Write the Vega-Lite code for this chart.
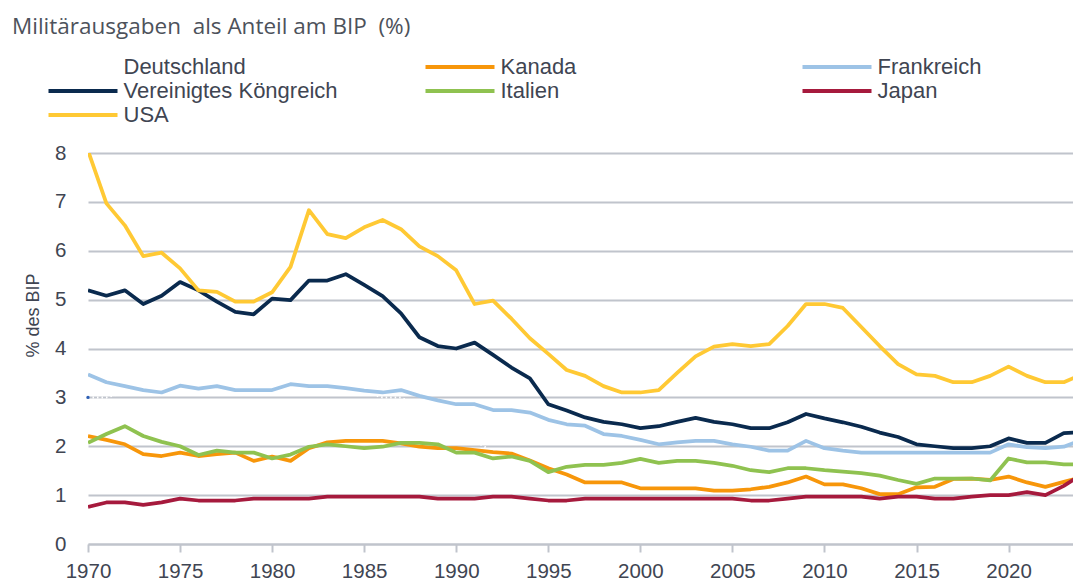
{
  "$schema": "https://vega.github.io/schema/vega-lite/v6.json",
  "width": 985,
  "height": 391,
  "autosize": {"type": "none"},
  "padding": {"left": 88, "top": 153, "right": 0, "bottom": 37},
  "background": "white",
  "title": {
    "text": "Militärausgaben\u00a0 als Anteil am BIP\u00a0 (%)",
    "anchor": "start",
    "frame": "group",
    "font": "Open Sans",
    "fontSize": 22.5,
    "fontWeight": "normal",
    "color": "#4d525b",
    "dx": -76,
    "offset": -1,
    "baseline": "alphabetic"
  },
  "config": {
    "view": {"stroke": null},
    "axis": {
      "labelFont": "Liberation Sans",
      "labelFontSize": 20.5,
      "labelColor": "#404552",
      "titleFont": "Liberation Sans",
      "titleColor": "#404552",
      "titleFontWeight": "normal"
    }
  },
  "data": {
    "values": [
      {"year": 1970, "Deutschland": 3.0, "Kanada": 2.21, "Frankreich": 3.47, "Vereinigtes Köngreich": 5.19, "Italien": 2.07, "Japan": 0.76, "USA": 8.05},
      {"year": 1971, "Deutschland": 3.0, "Kanada": 2.13, "Frankreich": 3.31, "Vereinigtes Köngreich": 5.08, "Italien": 2.25, "Japan": 0.85, "USA": 6.97},
      {"year": 1972, "Deutschland": 3.1, "Kanada": 2.04, "Frankreich": 3.23, "Vereinigtes Köngreich": 5.19, "Italien": 2.41, "Japan": 0.85, "USA": 6.52},
      {"year": 1973, "Deutschland": 3.1, "Kanada": 1.84, "Frankreich": 3.15, "Vereinigtes Köngreich": 4.91, "Italien": 2.21, "Japan": 0.80, "USA": 5.89},
      {"year": 1974, "Deutschland": 3.2, "Kanada": 1.80, "Frankreich": 3.10, "Vereinigtes Köngreich": 5.08, "Italien": 2.09, "Japan": 0.85, "USA": 5.96},
      {"year": 1975, "Deutschland": 3.2, "Kanada": 1.87, "Frankreich": 3.24, "Vereinigtes Köngreich": 5.36, "Italien": 2.00, "Japan": 0.93, "USA": 5.64},
      {"year": 1976, "Deutschland": 3.1, "Kanada": 1.80, "Frankreich": 3.18, "Vereinigtes Köngreich": 5.19, "Italien": 1.82, "Japan": 0.89, "USA": 5.19},
      {"year": 1977, "Deutschland": 3.1, "Kanada": 1.84, "Frankreich": 3.23, "Vereinigtes Köngreich": 4.96, "Italien": 1.91, "Japan": 0.89, "USA": 5.16},
      {"year": 1978, "Deutschland": 3.1, "Kanada": 1.87, "Frankreich": 3.15, "Vereinigtes Köngreich": 4.75, "Italien": 1.87, "Japan": 0.89, "USA": 4.96},
      {"year": 1979, "Deutschland": 3.1, "Kanada": 1.70, "Frankreich": 3.15, "Vereinigtes Köngreich": 4.70, "Italien": 1.87, "Japan": 0.93, "USA": 4.96},
      {"year": 1980, "Deutschland": 3.1, "Kanada": 1.79, "Frankreich": 3.15, "Vereinigtes Köngreich": 5.02, "Italien": 1.75, "Japan": 0.93, "USA": 5.15},
      {"year": 1981, "Deutschland": 3.2, "Kanada": 1.70, "Frankreich": 3.27, "Vereinigtes Köngreich": 4.99, "Italien": 1.83, "Japan": 0.93, "USA": 5.67},
      {"year": 1982, "Deutschland": 3.2, "Kanada": 1.96, "Frankreich": 3.23, "Vereinigtes Köngreich": 5.39, "Italien": 1.99, "Japan": 0.93, "USA": 6.83},
      {"year": 1983, "Deutschland": 3.2, "Kanada": 2.08, "Frankreich": 3.23, "Vereinigtes Köngreich": 5.39, "Italien": 2.04, "Japan": 0.97, "USA": 6.34},
      {"year": 1984, "Deutschland": 3.1, "Kanada": 2.11, "Frankreich": 3.19, "Vereinigtes Köngreich": 5.52, "Italien": 2.00, "Japan": 0.97, "USA": 6.26},
      {"year": 1985, "Deutschland": 3.1, "Kanada": 2.11, "Frankreich": 3.14, "Vereinigtes Köngreich": 5.30, "Italien": 1.96, "Japan": 0.97, "USA": 6.48},
      {"year": 1986, "Deutschland": 3.0, "Kanada": 2.11, "Frankreich": 3.10, "Vereinigtes Köngreich": 5.07, "Italien": 1.99, "Japan": 0.97, "USA": 6.63},
      {"year": 1987, "Deutschland": 3.0, "Kanada": 2.06, "Frankreich": 3.15, "Vereinigtes Köngreich": 4.72, "Italien": 2.07, "Japan": 0.97, "USA": 6.44},
      {"year": 1988, "Deutschland": 2.8, "Kanada": 1.99, "Frankreich": 3.03, "Vereinigtes Köngreich": 4.23, "Italien": 2.07, "Japan": 0.97, "USA": 6.09},
      {"year": 1989, "Deutschland": 2.6, "Kanada": 1.96, "Frankreich": 2.94, "Vereinigtes Köngreich": 4.05, "Italien": 2.04, "Japan": 0.93, "USA": 5.89},
      {"year": 1990, "Deutschland": 2.4, "Kanada": 1.96, "Frankreich": 2.86, "Vereinigtes Köngreich": 4.00, "Italien": 1.87, "Japan": 0.93, "USA": 5.60},
      {"year": 1991, "Deutschland": 2.1, "Kanada": 1.92, "Frankreich": 2.86, "Vereinigtes Köngreich": 4.12, "Italien": 1.87, "Japan": 0.93, "USA": 4.91},
      {"year": 1992, "Deutschland": 1.9, "Kanada": 1.88, "Frankreich": 2.74, "Vereinigtes Köngreich": 3.87, "Italien": 1.75, "Japan": 0.97, "USA": 4.98},
      {"year": 1993, "Deutschland": 1.7, "Kanada": 1.85, "Frankreich": 2.74, "Vereinigtes Köngreich": 3.61, "Italien": 1.79, "Japan": 0.97, "USA": 4.61},
      {"year": 1994, "Deutschland": 1.6, "Kanada": 1.71, "Frankreich": 2.69, "Vereinigtes Köngreich": 3.39, "Italien": 1.70, "Japan": 0.93, "USA": 4.21},
      {"year": 1995, "Deutschland": 1.5, "Kanada": 1.55, "Frankreich": 2.54, "Vereinigtes Köngreich": 2.86, "Italien": 1.47, "Japan": 0.89, "USA": 3.89},
      {"year": 1996, "Deutschland": 1.5, "Kanada": 1.42, "Frankreich": 2.45, "Vereinigtes Köngreich": 2.73, "Italien": 1.58, "Japan": 0.89, "USA": 3.56},
      {"year": 1997, "Deutschland": 1.4, "Kanada": 1.26, "Frankreich": 2.42, "Vereinigtes Köngreich": 2.59, "Italien": 1.62, "Japan": 0.93, "USA": 3.44},
      {"year": 1998, "Deutschland": 1.4, "Kanada": 1.26, "Frankreich": 2.25, "Vereinigtes Köngreich": 2.50, "Italien": 1.62, "Japan": 0.93, "USA": 3.23},
      {"year": 1999, "Deutschland": 1.4, "Kanada": 1.26, "Frankreich": 2.21, "Vereinigtes Köngreich": 2.45, "Italien": 1.66, "Japan": 0.93, "USA": 3.10},
      {"year": 2000, "Deutschland": 1.4, "Kanada": 1.14, "Frankreich": 2.13, "Vereinigtes Köngreich": 2.37, "Italien": 1.74, "Japan": 0.93, "USA": 3.10},
      {"year": 2001, "Deutschland": 1.35, "Kanada": 1.14, "Frankreich": 2.04, "Vereinigtes Köngreich": 2.41, "Italien": 1.66, "Japan": 0.93, "USA": 3.15},
      {"year": 2002, "Deutschland": 1.35, "Kanada": 1.14, "Frankreich": 2.08, "Vereinigtes Köngreich": 2.50, "Italien": 1.70, "Japan": 0.93, "USA": 3.50},
      {"year": 2003, "Deutschland": 1.35, "Kanada": 1.14, "Frankreich": 2.11, "Vereinigtes Köngreich": 2.58, "Italien": 1.70, "Japan": 0.93, "USA": 3.84},
      {"year": 2004, "Deutschland": 1.3, "Kanada": 1.09, "Frankreich": 2.11, "Vereinigtes Köngreich": 2.50, "Italien": 1.66, "Japan": 0.93, "USA": 4.04},
      {"year": 2005, "Deutschland": 1.3, "Kanada": 1.09, "Frankreich": 2.04, "Vereinigtes Köngreich": 2.45, "Italien": 1.60, "Japan": 0.93, "USA": 4.09},
      {"year": 2006, "Deutschland": 1.3, "Kanada": 1.12, "Frankreich": 1.99, "Vereinigtes Köngreich": 2.37, "Italien": 1.51, "Japan": 0.89, "USA": 4.05},
      {"year": 2007, "Deutschland": 1.3, "Kanada": 1.17, "Frankreich": 1.91, "Vereinigtes Köngreich": 2.37, "Italien": 1.47, "Japan": 0.89, "USA": 4.09},
      {"year": 2008, "Deutschland": 1.3, "Kanada": 1.26, "Frankreich": 1.91, "Vereinigtes Köngreich": 2.49, "Italien": 1.55, "Japan": 0.93, "USA": 4.46},
      {"year": 2009, "Deutschland": 1.35, "Kanada": 1.38, "Frankreich": 2.11, "Vereinigtes Köngreich": 2.66, "Italien": 1.55, "Japan": 0.97, "USA": 4.91},
      {"year": 2010, "Deutschland": 1.35, "Kanada": 1.22, "Frankreich": 1.96, "Vereinigtes Köngreich": 2.57, "Italien": 1.51, "Japan": 0.97, "USA": 4.91},
      {"year": 2011, "Deutschland": 1.3, "Kanada": 1.22, "Frankreich": 1.91, "Vereinigtes Köngreich": 2.49, "Italien": 1.48, "Japan": 0.97, "USA": 4.83},
      {"year": 2012, "Deutschland": 1.3, "Kanada": 1.14, "Frankreich": 1.87, "Vereinigtes Köngreich": 2.40, "Italien": 1.45, "Japan": 0.97, "USA": 4.44},
      {"year": 2013, "Deutschland": 1.25, "Kanada": 1.02, "Frankreich": 1.87, "Vereinigtes Köngreich": 2.28, "Italien": 1.40, "Japan": 0.93, "USA": 4.05},
      {"year": 2014, "Deutschland": 1.2, "Kanada": 1.02, "Frankreich": 1.87, "Vereinigtes Köngreich": 2.19, "Italien": 1.31, "Japan": 0.97, "USA": 3.68},
      {"year": 2015, "Deutschland": 1.2, "Kanada": 1.16, "Frankreich": 1.87, "Vereinigtes Köngreich": 2.04, "Italien": 1.23, "Japan": 0.97, "USA": 3.47},
      {"year": 2016, "Deutschland": 1.2, "Kanada": 1.17, "Frankreich": 1.87, "Vereinigtes Köngreich": 2.00, "Italien": 1.34, "Japan": 0.93, "USA": 3.44},
      {"year": 2017, "Deutschland": 1.25, "Kanada": 1.33, "Frankreich": 1.87, "Vereinigtes Köngreich": 1.96, "Italien": 1.34, "Japan": 0.93, "USA": 3.31},
      {"year": 2018, "Deutschland": 1.25, "Kanada": 1.34, "Frankreich": 1.87, "Vereinigtes Köngreich": 1.96, "Italien": 1.34, "Japan": 0.97, "USA": 3.31},
      {"year": 2019, "Deutschland": 1.35, "Kanada": 1.31, "Frankreich": 1.87, "Vereinigtes Köngreich": 2.00, "Italien": 1.30, "Japan": 1.00, "USA": 3.44},
      {"year": 2020, "Deutschland": 1.45, "Kanada": 1.38, "Frankreich": 2.04, "Vereinigtes Köngreich": 2.16, "Italien": 1.75, "Japan": 1.00, "USA": 3.63},
      {"year": 2021, "Deutschland": 1.35, "Kanada": 1.26, "Frankreich": 1.98, "Vereinigtes Köngreich": 2.07, "Italien": 1.67, "Japan": 1.06, "USA": 3.44},
      {"year": 2022, "Deutschland": 1.4, "Kanada": 1.17, "Frankreich": 1.96, "Vereinigtes Köngreich": 2.07, "Italien": 1.67, "Japan": 1.00, "USA": 3.31},
      {"year": 2023, "Deutschland": 1.55, "Kanada": 1.27, "Frankreich": 1.99, "Vereinigtes Köngreich": 2.27, "Italien": 1.63, "Japan": 1.19, "USA": 3.31},
      {"year": 2024, "Deutschland": 1.9, "Kanada": 1.37, "Frankreich": 2.13, "Vereinigtes Köngreich": 2.29, "Italien": 1.63, "Japan": 1.43, "USA": 3.47}
    ]
  },
  "encoding": {
    "x": {
      "field": "year",
      "type": "quantitative",
      "scale": {"domain": [1970, 2023.5], "nice": false, "zero": false},
      "axis": {
        "values": [1970, 1975, 1980, 1985, 1990, 1995, 2000, 2005, 2010, 2015, 2020],
        "format": "d",
        "title": null,
        "grid": false,
        "domainColor": "#c0c4cc",
        "domainWidth": 2,
        "tickColor": "#c0c4cc",
        "tickWidth": 2,
        "tickSize": 8,
        "labelPadding": 9,
        "labelFlush": false
      }
    }
  },
  "layer": [
    {
      "transform": [
        {"fold": ["Deutschland"], "as": ["country", "value"]}
      ],
      "mark": {"type": "line", "strokeWidth": 2, "strokeDash": [1.5, 3], "clip": true},
      "encoding": {
        "y": {"field": "value", "type": "quantitative"},
        "color": {"field": "country", "type": "nominal"}
      }
    },
    {
      "transform": [
        {"fold": ["Kanada", "Frankreich", "Vereinigtes Köngreich", "Italien", "Japan", "USA"], "as": ["country", "value"]}
      ],
      "mark": {"type": "line", "strokeWidth": 3.75, "strokeJoin": "round", "clip": true},
      "encoding": {
        "y": {
          "field": "value",
          "type": "quantitative",
          "scale": {"domain": [0, 8], "nice": false},
          "axis": {
            "values": [0, 1, 2, 3, 4, 5, 6, 7, 8],
            "title": "% des BIP",
            "grid": true,
            "gridColor": "#c0c4cc",
            "gridWidth": 2,
            "domain": false,
            "ticks": false,
            "labelPadding": 22,
            "titleFontSize": 18,
            "titleAngle": 270,
            "titleX": -50,
            "titleY": 162,
            "titleAlign": "center",
            "titleBaseline": "alphabetic"
          }
        },
        "color": {
          "field": "country",
          "type": "nominal",
          "scale": {
            "domain": ["Deutschland", "Kanada", "Frankreich", "Vereinigtes Köngreich", "Italien", "Japan", "USA"],
            "range": ["#ffffff", "#f7960a", "#9dc3e6", "#0a2a4e", "#8fc250", "#a61a3d", "#ffc934"]
          },
          "legend": {
            "orient": "none",
            "direction": "horizontal",
            "legendX": -41.5,
            "legendY": -98,
            "title": null,
            "columns": 3,
            "symbolType": "stroke",
            "symbolSize": 4761,
            "symbolStrokeWidth": 4,
            "labelFont": "Liberation Sans",
            "labelFontSize": 22,
            "labelColor": "#404552",
            "labelOffset": 4,
            "labelLimit": 400,
            "columnPadding": 85,
            "rowPadding": 0,
            "clipHeight": 24,
            "gridAlign": "all",
            "padding": 0
          }
        }
      }
    },
    {
      "transform": [{"filter": "datum.year == 1970"}],
      "mark": {"type": "point", "filled": true, "size": 12, "color": "#2d5fb4", "opacity": 1},
      "encoding": {
        "y": {"field": "Deutschland", "type": "quantitative"}
      }
    }
  ]
}
